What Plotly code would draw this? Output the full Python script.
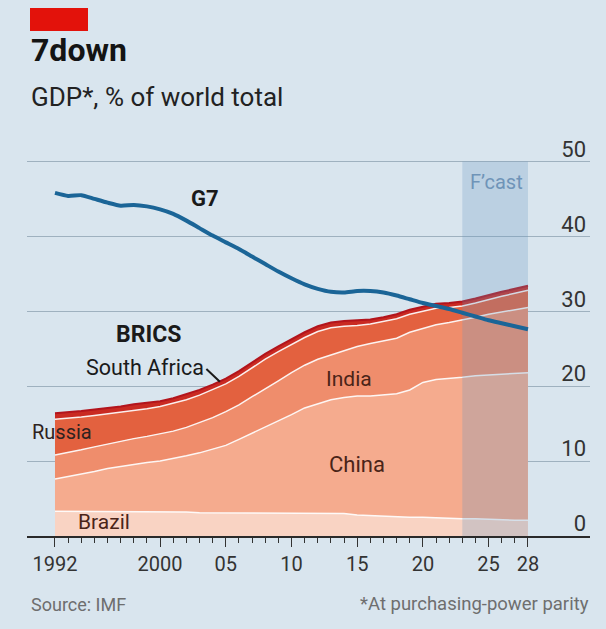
import plotly.graph_objects as go

# ---------------- data ----------------
years = list(range(1992, 2029))
brazil = [3.3, 3.3, 3.3, 3.3, 3.3, 3.3, 3.2, 3.2, 3.2, 3.2, 3.2, 3.1, 3.1, 3.1, 3.1, 3.1, 3.1, 3.1, 3.1,
          3.1, 3.1, 3.0, 3.0, 2.8, 2.7, 2.6, 2.6, 2.5, 2.5, 2.4, 2.4, 2.3, 2.3, 2.2, 2.2, 2.1, 2.1]
china = [4.3, 4.6, 5.0, 5.3, 5.7, 6.0, 6.4, 6.6, 6.8, 7.1, 7.5, 8.0, 8.5, 9.0, 9.8, 10.6, 11.5, 12.3, 13.1,
         14.0, 14.6, 15.2, 15.5, 15.9, 16.0, 16.2, 16.4, 17.0, 18.0, 18.5, 18.6, 18.9, 19.1, 19.3, 19.4, 19.6, 19.7]
india = [3.2, 3.2, 3.2, 3.3, 3.3, 3.4, 3.4, 3.5, 3.6, 3.7, 3.8, 4.0, 4.2, 4.5, 4.6, 4.9, 5.0, 5.3, 5.6,
         5.7, 5.9, 6.0, 6.3, 6.6, 7.0, 7.2, 7.4, 7.7, 7.2, 7.3, 7.5, 7.6, 7.8, 8.1, 8.3, 8.5, 8.7]
russia = [4.8, 4.6, 4.4, 4.2, 4.0, 3.8, 3.8, 3.7, 3.7, 3.7, 3.7, 3.7, 3.7, 3.7, 3.8, 3.9, 4.0, 3.9, 3.8,
          3.7, 3.7, 3.6, 3.2, 2.8, 2.6, 2.6, 2.6, 2.4, 2.3, 2.2, 2.0, 1.9, 1.9, 2.0, 2.1, 2.2, 2.3]
south_africa = [0.8, 0.8, 0.8, 0.8, 0.8, 0.8, 0.8, 0.8, 0.7, 0.7, 0.7, 0.7, 0.7, 0.7, 0.7, 0.7, 0.7, 0.7, 0.7,
                0.7, 0.7, 0.7, 0.7, 0.7, 0.6, 0.6, 0.6, 0.6, 0.6, 0.6, 0.6, 0.6, 0.6, 0.6, 0.6, 0.6, 0.6]
g7 = [45.8, 45.4, 45.5, 45.0, 44.5, 44.1, 44.2, 44.0, 43.6, 43.0, 42.1, 41.1, 40.1, 39.2, 38.3, 37.3, 36.3,
      35.3, 34.4, 33.6, 33.0, 32.6, 32.5, 32.7, 32.7, 32.5, 32.1, 31.6, 31.1, 30.7, 30.3, 29.8, 29.3, 28.8,
      28.4, 28.0, 27.6]
forecast_start = 2023
x_tickvals = [1992, 2000, 2005, 2010, 2015, 2020, 2025, 2028]
x_ticktext = ["1992", "2000", "05", "10", "15", "20", "25", "28"]
y_tickvals = [0, 10, 20, 30, 40, 50]

# ---------------- styles ----------------
BG = "#d9e5ee"
FONT = "Roboto"
layers = [
    ("Brazil", brazil, "#f9d3c3", "rgba(255,255,255,0.9)", 1.5),
    ("China", china, "#f5ab8e", "rgba(255,255,255,0.9)", 1.5),
    ("India", india, "#ef8d6c", "rgba(255,255,255,0.9)", 1.5),
    ("Russia", russia, "#e3613f", "rgba(255,255,255,0.9)", 1.5),
    ("South Africa", south_africa, "#c92a22", "#b3141c", 2),
]

PLOT_TOP, PLOT_BOTTOM = 124, 536  # px
PLOT_LEFT, PLOT_RIGHT = 27, 590
H = PLOT_BOTTOM - PLOT_TOP


def py(px):  # pixel row -> paper y (relative to plot area)
    return (PLOT_BOTTOM - px) / H


def pxp(px):  # pixel col -> paper x
    return (px - PLOT_LEFT) / (PLOT_RIGHT - PLOT_LEFT)


fig = go.Figure()
for name, vals, fill, lc, lw in layers:
    fig.add_trace(go.Scatter(x=years, y=vals, name=name, stackgroup="brics", mode="lines",
                             line=dict(color=lc, width=lw), fillcolor=fill, hoverinfo="skip"))

# forecast shading between areas and G7 line
fig.add_trace(go.Scatter(x=[forecast_start, years[-1], years[-1], forecast_start, forecast_start],
                         y=[0, 0, y_tickvals[-1], y_tickvals[-1], 0], fill="toself", mode="none",
                         fillcolor="rgba(100,150,195,0.26)", hoverinfo="skip", showlegend=False))

fig.add_trace(go.Scatter(x=years, y=g7, name="G7", mode="lines",
                         line=dict(color="#1b6597", width=4, shape="spline", smoothing=0.6)))

ann = []
def lab(text, x, y, size=21, color="#2a1a16", bold=False, **kw):
    ann.append(dict(text=f"<b>{text}</b>" if bold else text, x=x, y=y, xref="x", yref="y",
                    showarrow=False, font=dict(family=FONT, size=size, color=color), **kw))

lab("G7", 2003.4, 45.1, size=22, color="#1a1a1a", bold=True)
lab("BRICS", 1999.1, 26.9, size=23, color="#1a1a1a", bold=True)
lab("Russia", 1992.5, 13.9, size=20, color="#2e2220")
lab("India", 2014.4, 21.0, size=21, color="#4a2418")
lab("China", 2015.0, 9.6, size=22, color="#4a2418")
lab("Brazil", 1995.7, 1.9, size=21, color="#4a2418")
lab("F\u2019cast", 2025.6, 47.3, size=20, color="#6f94b8")
lab("South Africa", 1998.85, 22.5, size=21.5, color="#1a1a1a")
# small pointer from "South Africa" to its (thin) band
ann.append(dict(text="", x=2004.55, y=20.6, xref="x", yref="y", showarrow=True, arrowhead=0,
                arrowwidth=2, arrowcolor="#1a1a1a", ax=-15, ay=-14, standoff=0, startstandoff=0))

# header / footer
def paper_text(text, xpx, ypx, size, color, anchor="left"):
    ann.append(dict(text=text, xref="paper", yref="paper", x=pxp(xpx), y=py(ypx), xanchor=anchor,
                    yanchor="middle", showarrow=False, font=dict(family=FONT, size=size, color=color)))

paper_text("<b>7down</b>", 29, 50, 32, "#141414")
paper_text("GDP*, % of world total", 29, 97, 26, "#222222")
paper_text("Source: IMF", 29, 604, 18, "#6e6e6e")
paper_text("*At purchasing-power parity", 591, 604, 18.5, "#6e6e6e", anchor="right")

fig.update_layout(
    width=606, height=629,
    margin=dict(l=PLOT_LEFT, r=606 - PLOT_RIGHT, t=PLOT_TOP, b=629 - PLOT_BOTTOM),
    paper_bgcolor=BG, plot_bgcolor=BG, showlegend=False, annotations=ann,
    shapes=[dict(type="rect", xref="paper", yref="paper", x0=pxp(30), x1=pxp(88), y0=py(31), y1=py(8),
                 fillcolor="#e3120b", line=dict(width=0))],
    xaxis=dict(range=[1989.87, 2032.72], tickmode="array", tickvals=x_tickvals, ticktext=x_ticktext,
               ticks="outside", ticklen=9, tickwidth=1.3, tickcolor="#333333",
               minor=dict(tickmode="array", tickvals=years, ticks="outside", ticklen=5,
                          tickwidth=1.2, tickcolor="#333333"),
               showline=True, linecolor="#2a2a2a", linewidth=1.6, showgrid=False, zeroline=False,
               tickfont=dict(family=FONT, size=20, color="#333333")),
    yaxis=dict(range=[0, 55], side="right", tickmode="array", tickvals=y_tickvals,
               ticklabelposition="inside top", ticklabeloverflow="allow", ticklabelshift=3,
               ticklabelstandoff=1, showgrid=True,
               gridcolor="#9fb1bf", gridwidth=1, zeroline=False, showline=False, ticks="",
               tickfont=dict(family=FONT, size=22, color="#333333")),
)

fig.write_html("out.html", config={"displayModeBar": False},
               post_script="document.body.style.margin='0px';document.body.style.background='%s';" % BG)
